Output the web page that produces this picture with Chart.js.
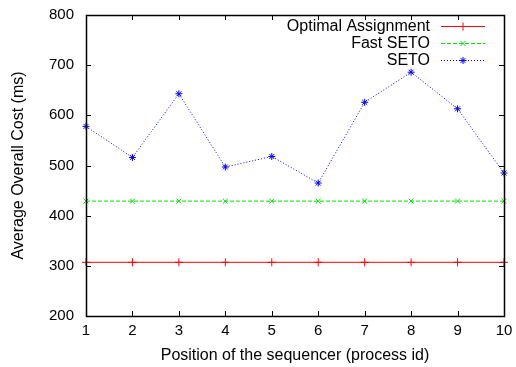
<!DOCTYPE html>
<html>
<head>
<meta charset="utf-8">
<script src="https://cdn.jsdelivr.net/npm/chart.js@4"></script>
<style>
  html, body { margin: 0; padding: 0; background: #fff; }
  canvas { display: block; }
</style>
</head>
<body>
<canvas id="chart" width="516" height="367"></canvas>
<script>
const positions = ['1', '2', '3', '4', '5', '6', '7', '8', '9', '10'];
const optimal = [307, 307, 307, 307, 307, 307, 307, 307, 307, 307];
const fastSeto = [429, 429, 429, 429, 429, 429, 429, 429, 429, 429];
const seto = [578, 516, 643, 497, 518, 465, 626, 686, 613, 485];
const seriesNames = ['Optimal Assignment', 'Fast SETO', 'SETO'];
const yTicks = [200, 300, 400, 500, 600, 700, 800];

const FONT = 'Liberation Sans, Arial, Helvetica, sans-serif';

// gnuplot-like frame: box plus inward ticks on every side
const framePlugin = {
  id: 'frame',
  afterDatasetsDraw(chart) {
    const { ctx, chartArea: a, scales } = chart;
    ctx.save();
    ctx.strokeStyle = '#000';
    ctx.lineWidth = 1;
    ctx.setLineDash([]);
    ctx.beginPath();
    scales.x.ticks.forEach((t, i) => {
      const x = Math.round(scales.x.getPixelForTick(i)) + 0.5;
      ctx.moveTo(x, a.bottom); ctx.lineTo(x, a.bottom - 5);
      ctx.moveTo(x, a.top); ctx.lineTo(x, a.top + 5);
    });
    scales.y.ticks.forEach(t => {
      const y = Math.round(scales.y.getPixelForValue(t.value)) + 0.5;
      ctx.moveTo(a.left, y); ctx.lineTo(a.left + 5, y);
      ctx.moveTo(a.right, y); ctx.lineTo(a.right - 5, y);
    });
    ctx.stroke();
    ctx.lineWidth = 1.5;
    ctx.strokeRect(Math.round(a.left) + 0.5, Math.round(a.top) + 0.5,
      Math.round(a.right - a.left), Math.round(a.bottom - a.top));
    ctx.restore();
  }
};

// legend in top right, text right aligned with sample line after it
const keyPlugin = {
  id: 'key',
  afterDraw(chart) {
    const { ctx } = chart;
    ctx.save();
    ctx.font = '16px ' + FONT;
    ctx.textAlign = 'right';
    ctx.textBaseline = 'middle';
    chart.data.datasets.forEach((ds, i) => {
      const y = 26 + i * 17;
      ctx.fillStyle = '#000';
      ctx.fillText(ds.label, 430, y + 1);
      ctx.strokeStyle = ds.borderColor;
      ctx.lineWidth = 1;
      ctx.setLineDash(ds.borderDash || []);
      ctx.beginPath();
      ctx.moveTo(441, y + 0.5); ctx.lineTo(485, y + 0.5);
      ctx.stroke();
      ctx.setLineDash([]);
      Chart.helpers.drawPoint(ctx, {
        pointStyle: ds.pointStyle, radius: ds.pointRadius, borderWidth: 1
      }, 463, y + 0.5);
    });
    ctx.restore();
  }
};

const noPad = s => { s.paddingLeft = 0; s.paddingRight = 0; s.paddingTop = 0; s.paddingBottom = 0; };

new Chart(document.getElementById('chart'), {
  type: 'line',
  data: {
    labels: positions,
    datasets: [
      { label: seriesNames[0], data: optimal, borderColor: '#ff0000', backgroundColor: '#ff0000',
        pointStyle: 'cross', pointRadius: 4 },
      { label: seriesNames[1], data: fastSeto, borderColor: '#00e000', backgroundColor: '#00e000',
        borderDash: [4, 2], pointStyle: 'crossRot', pointRadius: 3.5 },
      { label: seriesNames[2], data: seto, borderColor: '#0000ff', backgroundColor: '#0000ff',
        borderDash: [1, 2], pointStyle: 'star', pointRadius: 3.5 }
    ].map(d => Object.assign({ borderWidth: 1, pointBorderWidth: 1, tension: 0, fill: false }, d))
  },
  options: {
    responsive: false,
    animation: false,
    devicePixelRatio: 1,
    layout: { padding: { top: 15, right: 12, left: 0, bottom: 0 } },
    plugins: { legend: { display: false }, tooltip: { enabled: false } },
    scales: {
      x: {
        grid: { display: false, drawTicks: false },
        border: { display: false },
        ticks: { color: '#000', font: { family: FONT, size: 15 }, padding: 6, maxRotation: 0, autoSkip: false },
        title: { display: true, text: 'Position of the sequencer (process id)', color: '#000',
          font: { family: FONT, size: 16 }, padding: { top: 0, bottom: 2 } },
        afterFit: s => { s.height = 51; noPad(s); }
      },
      y: {
        min: 200, max: 800,
        grid: { display: false, drawTicks: false },
        border: { display: false },
        afterBuildTicks: s => { s.ticks = yTicks.map(v => ({ value: v })); },
        ticks: { color: '#000', font: { family: FONT, size: 15 }, padding: 12 },
        title: { display: true, text: 'Average Overall Cost (ms)', color: '#000',
          font: { family: FONT, size: 16 }, padding: { top: 9, bottom: 0 } },
        afterFit: s => { s.width = 86; noPad(s); }
      }
    }
  },
  plugins: [framePlugin, keyPlugin]
});
</script>
</body>
</html>
